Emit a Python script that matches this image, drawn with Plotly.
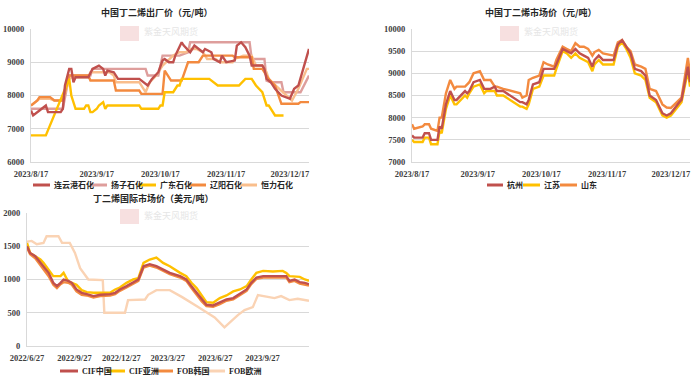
import plotly.graph_objects as go

# ---------------- DATA ----------------
# Chart 1: 中国丁二烯出厂价（元/吨）
lyg_dates = ["2023-08-17","2023-08-18","2023-08-21","2023-08-23","2023-08-24","2023-08-25","2023-08-31","2023-09-01","2023-09-02","2023-09-04","2023-09-05","2023-09-06","2023-09-07","2023-09-13","2023-09-15","2023-09-18","2023-09-20","2023-09-21","2023-09-22","2023-09-25","2023-09-27","2023-10-07","2023-10-09","2023-10-11","2023-10-13","2023-10-16","2023-10-18","2023-10-19","2023-10-21","2023-10-23","2023-10-24","2023-10-27","2023-10-28","2023-10-31","2023-11-02","2023-11-04","2023-11-06","2023-11-07","2023-11-10","2023-11-11","2023-11-14","2023-11-15","2023-11-17","2023-11-21","2023-11-22","2023-11-24","2023-11-26","2023-11-28","2023-11-29","2023-12-04","2023-12-05","2023-12-06","2023-12-08","2023-12-10","2023-12-13","2023-12-17","2023-12-19","2023-12-21","2023-12-24","2023-12-26"]
lyg_vals = [7550,7400,7550,7650,7700,7500,7500,7600,8300,8800,8800,8400,8550,8550,8800,8900,8800,8600,8750,8700,8500,8500,8400,8300,8500,8700,9050,9100,9000,9000,9200,9600,9500,9300,9500,9400,9300,9400,9300,9100,9000,9200,9000,9050,9500,9600,9450,9200,8900,8900,8800,8500,8400,8200,8000,7900,8200,8300,9000,9400]

yz_dates = ["2023-08-17","2023-09-01","2023-09-04","2023-09-14","2023-09-15","2023-10-10","2023-10-11","2023-10-16","2023-10-18","2023-10-26","2023-10-30","2023-10-31","2023-11-28","2023-11-29","2023-12-05","2023-12-06","2023-12-08","2023-12-13","2023-12-14","2023-12-22","2023-12-26"]
yz_vals = [7600,7600,8600,8600,8800,8800,8600,8600,9200,9200,9300,9600,9600,9100,9100,8450,8400,8400,8100,8100,8600]

gd_dates = ["2023-08-17","2023-08-24","2023-09-04","2023-09-05","2023-09-07","2023-09-11","2023-09-12","2023-09-13","2023-09-14","2023-09-15","2023-09-17","2023-09-18","2023-09-20","2023-09-21","2023-09-22","2023-10-07","2023-10-08","2023-10-16","2023-10-17","2023-10-18","2023-10-19","2023-10-23","2023-10-25","2023-10-26","2023-10-27","2023-11-09","2023-11-13","2023-11-23","2023-11-26","2023-11-29","2023-12-01","2023-12-04","2023-12-06","2023-12-07","2023-12-10","2023-12-14"]
gd_vals = [6800,6800,8500,8000,7600,7600,7700,7700,7500,7500,7600,7700,7800,7600,7700,7700,7600,7600,7700,7700,8100,8100,8300,8300,8500,8500,8300,8300,8500,8500,8300,8100,7700,7700,7400,7400]

ly_dates = ["2023-08-17","2023-08-20","2023-08-21","2023-08-26","2023-08-28","2023-09-01","2023-09-04","2023-09-13","2023-09-14","2023-09-25","2023-09-26","2023-10-07","2023-10-08","2023-10-18","2023-10-19","2023-10-22","2023-10-27","2023-10-30","2023-11-04","2023-11-06","2023-11-20","2023-11-21","2023-11-29","2023-11-30","2023-12-04","2023-12-07","2023-12-10","2023-12-13","2023-12-21","2023-12-22","2023-12-26"]
ly_vals = [7700,7850,7950,7950,7850,7850,8600,8600,8450,8450,8150,8150,8050,8050,8750,8450,8450,9000,9000,9200,9200,9150,9150,8800,8800,8500,8300,7750,7750,7800,7800]

hl_dates = ["2023-08-17","2023-08-21","2023-08-26","2023-08-28","2023-09-01","2023-09-04","2023-09-05","2023-09-13","2023-09-14","2023-09-23","2023-09-25","2023-09-26","2023-10-07","2023-10-10","2023-10-12","2023-10-15","2023-10-18","2023-10-23","2023-10-26","2023-10-29","2023-10-31","2023-11-03","2023-11-06","2023-11-08","2023-11-12","2023-11-14","2023-11-20","2023-11-21","2023-11-25","2023-11-29","2023-12-01","2023-12-04","2023-12-06","2023-12-07","2023-12-12","2023-12-17","2023-12-18","2023-12-21","2023-12-25","2023-12-26"]
hl_vals = [7700,7900,7900,7850,7850,8500,8550,8550,8700,8700,8600,8400,8400,8100,8400,8600,8900,9200,9300,9300,9400,9400,9300,9100,9100,9000,9000,9100,9200,9200,8900,8900,8700,8500,8200,7900,7850,8200,8800,8800]

# Chart 2: 中国丁二烯市场价（元/吨）
mkt_dates = ["2023-08-17","2023-08-18","2023-08-22","2023-08-23","2023-08-25","2023-08-26","2023-08-29","2023-08-30","2023-08-31","2023-09-02","2023-09-04","2023-09-06","2023-09-07","2023-09-09","2023-09-11","2023-09-12","2023-09-13","2023-09-15","2023-09-18","2023-09-20","2023-09-21","2023-09-23","2023-09-25","2023-09-26","2023-09-29","2023-10-07","2023-10-08","2023-10-10","2023-10-11","2023-10-13","2023-10-16","2023-10-18","2023-10-20","2023-10-23","2023-10-24","2023-10-27","2023-10-29","2023-10-31","2023-11-02","2023-11-04","2023-11-06","2023-11-08","2023-11-10","2023-11-11","2023-11-13","2023-11-15","2023-11-20","2023-11-22","2023-11-24","2023-11-26","2023-11-28","2023-11-30","2023-12-03","2023-12-05","2023-12-07","2023-12-10","2023-12-13","2023-12-15","2023-12-17","2023-12-21","2023-12-22","2023-12-25","2023-12-26"]
hz_vals = [7600,7550,7550,7650,7650,7500,7500,7800,7750,8300,8600,8400,8400,8500,8600,8550,8600,8800,8850,8650,8650,8650,8700,8600,8600,8350,8350,8300,8400,8750,8800,9100,9100,9100,9200,9550,9500,9450,9550,9450,9400,9350,9150,9300,9400,9300,9300,9650,9750,9600,9450,9100,9050,8950,8500,8400,8100,8050,8100,8350,8400,9150,8800]
js_vals = [7500,7450,7450,7550,7550,7400,7400,7700,7650,8200,8500,8300,8300,8400,8500,8450,8550,8700,8750,8550,8600,8600,8600,8500,8500,8250,8250,8200,8300,8650,8700,8950,8950,8950,9100,9500,9450,9350,9450,9350,9300,9250,9050,9200,9300,9200,9200,9600,9700,9550,9350,9000,8950,8850,8450,8350,8050,8000,8050,8300,8350,9050,8700]
sd_vals = [7850,7750,7800,7850,7850,7750,7700,8000,8000,8550,8850,8650,8700,8700,8700,8750,8800,9000,9050,8850,8850,8850,8700,8700,8650,8550,8450,8500,8850,8900,8950,9250,9200,9150,9300,9600,9550,9500,9680,9600,9600,9550,9400,9480,9530,9450,9400,9700,9750,9600,9500,9200,9150,9100,8650,8600,8300,8230,8220,8400,8450,9350,9000]

# Chart 3: 丁二烯国际市场价（美元/吨）
intl_dates = ["2022-06-27","2022-07-03","2022-07-13","2022-07-23","2022-07-29","2022-08-08","2022-08-17","2022-08-24","2022-08-31","2022-09-06","2022-09-15","2022-09-22","2022-10-01","2022-10-11","2022-10-21","2022-11-03","2022-11-16","2022-11-25","2022-12-05","2022-12-15","2022-12-24","2023-01-06","2023-01-19","2023-01-29","2023-02-08","2023-02-20","2023-03-05","2023-03-18","2023-03-31","2023-04-20","2023-05-02","2023-05-12","2023-05-22","2023-06-01","2023-06-10","2023-06-23","2023-07-06","2023-07-19","2023-08-01","2023-08-14","2023-08-27","2023-09-05","2023-09-15","2023-09-28","2023-10-17","2023-11-05","2023-11-12","2023-11-18","2023-11-28","2023-12-08","2023-12-18","2023-12-26"]
cif_cn_vals = [1500,1400,1350,1250,1200,1100,950,900,950,1000,980,950,850,800,780,750,770,770,780,800,850,900,950,1000,1200,1230,1200,1150,1100,1050,1000,900,800,700,620,610,650,700,720,780,850,950,1030,1050,1050,1060,1050,980,1000,960,950,930]
cif_as_vals = [1550,1400,1350,1300,1250,1150,1050,1050,1050,1100,970,950,920,840,810,800,800,790,800,850,880,950,1000,1020,1250,1300,1330,1250,1200,1100,1050,950,870,760,660,650,720,760,820,850,900,1000,1100,1130,1120,1130,1100,1050,1050,1040,1000,980]
fob_kr_vals = [1480,1380,1320,1220,1150,1050,920,870,930,960,950,920,820,770,760,730,750,750,760,780,830,880,930,980,1180,1210,1180,1130,1080,1030,980,870,770,670,600,590,630,680,700,760,830,930,1010,1030,1030,1040,1030,960,980,940,920,910]
eu_dates = ["2022-06-27","2022-07-06","2022-07-16","2022-07-29","2022-08-04","2022-08-27","2022-09-03","2022-09-18","2022-09-28","2022-10-08","2022-10-24","2022-11-21","2022-11-24","2023-01-03","2023-01-09","2023-02-11","2023-02-17","2023-03-05","2023-03-31","2023-04-24","2023-05-25","2023-06-26","2023-07-15","2023-07-30","2023-08-10","2023-08-23","2023-09-08","2023-09-18","2023-10-01","2023-10-20","2023-11-02","2023-11-18","2023-12-04","2023-12-26"]
fob_eu_vals = [1570,1580,1530,1550,1650,1650,1550,1550,1400,1170,1000,990,500,500,690,700,770,840,840,735,585,430,280,390,465,540,585,765,750,720,750,690,710,680]

# Tick labels
top_tickvals = ["2023-08-17","2023-09-17","2023-10-17","2023-11-17","2023-12-17"]
top_ticktext = ["2023/8/17","2023/9/17","2023/10/17","2023/11/17","2023/12/17"]
bot_tickvals = ["2022-06-27","2022-09-27","2022-12-27","2023-03-27","2023-06-27","2023-09-27"]
bot_ticktext = ["2022/6/27","2022/9/27","2022/12/27","2023/3/27","2023/6/27","2023/9/27"]

titles = ["中国丁二烯出厂价（元/吨）", "中国丁二烯市场价（元/吨）", "丁二烯国际市场价（美元/吨）"]

# ---------------- STYLE ----------------
W, H = 700, 383
DARKRED = "#C0504D"
PINK = "#DE9E9C"
YELLOW = "#FFC000"
ORANGE = "#F38A3F"
PEACH = "#F9BE8C"
LIGHTPEACH = "#FAD3B4"
GRID = "#D9D9D9"
SERIF = "Liberation Serif"
CJK = "Noto Sans CJK SC"

def dx(p):
    return p / W

def dy(p):
    return 1 - p / H

fig = go.Figure()

def add(x, y, name, color, xa, ya):
    fig.add_trace(go.Scatter(x=x, y=y, name=name, mode="lines",
                             line=dict(color=color, width=2.4),
                             xaxis=xa, yaxis=ya, showlegend=False,
                             hoverinfo="x+y+name"))

# chart 1
add(yz_dates, yz_vals, "扬子石化", PINK, "x", "y")
add(hl_dates, hl_vals, "恒力石化", PEACH, "x", "y")
add(ly_dates, ly_vals, "辽阳石化", ORANGE, "x", "y")
add(gd_dates, gd_vals, "广东石化", YELLOW, "x", "y")
add(lyg_dates, lyg_vals, "连云港石化", DARKRED, "x", "y")
# chart 2
add(mkt_dates, js_vals, "江苏", YELLOW, "x2", "y2")
add(mkt_dates, sd_vals, "山东", ORANGE, "x2", "y2")
add(mkt_dates, hz_vals, "杭州", DARKRED, "x2", "y2")
# chart 3
add(eu_dates, fob_eu_vals, "FOB欧洲", LIGHTPEACH, "x3", "y3")
add(intl_dates, cif_as_vals, "CIF亚洲", YELLOW, "x3", "y3")
add(intl_dates, fob_kr_vals, "FOB韩国", ORANGE, "x3", "y3")
add(intl_dates, cif_cn_vals, "CIF中国", DARKRED, "x3", "y3")

tickfont = dict(family=SERIF, size=8.5, color="#404040", weight="bold")

def xaxis(l, r, anchor, rng, tv, tt):
    return dict(domain=[dx(l), dx(r)], anchor=anchor, type="date", range=rng,
                tickvals=tv, ticktext=tt, showgrid=False, showline=True,
                linecolor=GRID, linewidth=1, ticks="", ticklen=0, tickfont=tickfont,
                zeroline=False, fixedrange=True, automargin=False,
                ticklabelstandoff=4)

def yaxis(top, bot, anchor, rng, dtick):
    return dict(domain=[dy(bot), dy(top)], anchor=anchor, range=rng, dtick=dtick,
                tickformat="d", showgrid=True, gridcolor=GRID, gridwidth=1,
                showline=True, linecolor=GRID, linewidth=1, ticks="", ticklen=0,
                tickfont=tickfont, zeroline=False, fixedrange=True,
                automargin=False, ticklabelstandoff=4)

fig.update_layout(
    width=W, height=H, margin=dict(l=0, r=0, t=0, b=0, autoexpand=False),
    paper_bgcolor="white", plot_bgcolor="white", showlegend=False,
    xaxis=xaxis(31, 309, "y", ["2023-08-17", "2023-12-26"], top_tickvals, top_ticktext),
    yaxis=yaxis(29, 162, "x", [6000, 10000], 1000),
    xaxis2=xaxis(412, 690, "y2", ["2023-08-17", "2023-12-26"], top_tickvals, top_ticktext),
    yaxis2=yaxis(29, 162, "x2", [7000, 10000], 500),
    xaxis3=xaxis(27, 309, "y3", ["2022-06-27", "2023-12-26"], bot_tickvals, bot_ticktext),
    yaxis3=yaxis(213, 346, "x3", [0, 2000], 500),
)

shapes = []
annotations = []

# titles
for text, cx, cy in [(titles[0], 156, 12), (titles[1], 540, 12), (titles[2], 153, 198)]:
    annotations.append(dict(text=text, x=dx(cx), y=dy(cy), xref="paper", yref="paper",
                            showarrow=False, xanchor="center", yanchor="middle",
                            font=dict(family=CJK, size=9, color="#262626", weight="bold")))

# watermarks (faint logo)
for sx, sy in [(120, 26), (500, 26), (120, 209)]:
    shapes.append(dict(type="rect", xref="paper", yref="paper",
                       x0=dx(sx), x1=dx(sx + 19), y0=dy(sy + 15), y1=dy(sy),
                       fillcolor="#F7E0E0", line=dict(width=0), layer="below"))
    annotations.append(dict(text="紫金天风期货", x=dx(sx + 22), y=dy(sy + 6), xref="paper",
                            yref="paper", showarrow=False, xanchor="left", yanchor="middle",
                            font=dict(family=CJK, size=9, color="#E6E6E6")))

# legends (manual, compact like the reference)
def legend_item(x0, x1, y, color, label):
    shapes.append(dict(type="line", xref="paper", yref="paper",
                       x0=dx(x0), x1=dx(x1), y0=dy(y), y1=dy(y),
                       line=dict(color=color, width=3)))
    annotations.append(dict(text=label, x=dx(x1 + 2), y=dy(y), xref="paper", yref="paper",
                            showarrow=False, xanchor="left", yanchor="middle",
                            font=dict(family=SERIF + ", " + CJK, size=8, color="#262626",
                                      weight="bold")))

for (x0, x1, color, label) in [(33, 50, DARKRED, "连云港石化"), (90, 107, PINK, "扬子石化"),
                                (138, 156, YELLOW, "广东石化"), (189, 206, ORANGE, "辽阳石化"),
                                (240, 257, PEACH, "恒力石化")]:
    legend_item(x0, x1, 185, color, label)

for (x0, x1, color, label) in [(487, 503, DARKRED, "杭州"), (523, 540, YELLOW, "江苏"),
                                (560, 577, ORANGE, "山东")]:
    legend_item(x0, x1, 185, color, label)

for (x0, x1, color, label) in [(60, 78, DARKRED, "CIF中国"), (107, 125, YELLOW, "CIF亚洲"),
                                (155, 173, ORANGE, "FOB韩国"), (207, 225, LIGHTPEACH, "FOB欧洲")]:
    legend_item(x0, x1, 371, color, label)

fig.update_layout(shapes=shapes, annotations=annotations)

fig.write_html("out.html", config={"displayModeBar": False},
               post_script="document.body.style.margin='0';document.body.style.padding='0';")
